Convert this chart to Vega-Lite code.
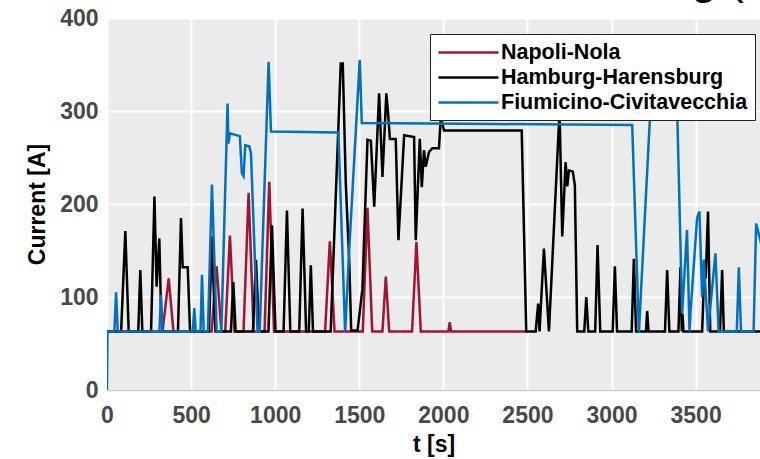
{
  "$schema": "https://vega.github.io/schema/vega-lite/v6.json",
  "autosize": {"type": "none"},
  "padding": {"left": 107, "top": 18, "right": 0, "bottom": 69},
  "width": 653,
  "height": 372,
  "background": "#ffffff",
  "title": {"text": "g (", "anchor": "end", "fontSize": 45, "font": "Liberation Sans", "fontWeight": "normal", "color": "#000000", "offset": 4, "dx": -16},
  "config": {
    "view": {"fill": "#ebebeb", "stroke": null},
    "axis": {"gridColor": "#ffffff", "gridWidth": 2, "ticks": false, "labelFont": "Liberation Sans", "labelFontWeight": "bold", "labelFontSize": 23, "labelColor": "#484848", "titleFont": "Liberation Sans", "titleFontWeight": "bold", "titleFontSize": 23, "titleColor": "#000000"}
  },
  "data": {"values": [
    {"series": "Napoli-Nola", "t": 0, "current": 63},
    {"series": "Napoli-Nola", "t": 330, "current": 63},
    {"series": "Napoli-Nola", "t": 367, "current": 120},
    {"series": "Napoli-Nola", "t": 395, "current": 63},
    {"series": "Napoli-Nola", "t": 622, "current": 63},
    {"series": "Napoli-Nola", "t": 652, "current": 133},
    {"series": "Napoli-Nola", "t": 680, "current": 63},
    {"series": "Napoli-Nola", "t": 703, "current": 63},
    {"series": "Napoli-Nola", "t": 731, "current": 166},
    {"series": "Napoli-Nola", "t": 758, "current": 63},
    {"series": "Napoli-Nola", "t": 812, "current": 63},
    {"series": "Napoli-Nola", "t": 842, "current": 212},
    {"series": "Napoli-Nola", "t": 872, "current": 63},
    {"series": "Napoli-Nola", "t": 937, "current": 63},
    {"series": "Napoli-Nola", "t": 965, "current": 224},
    {"series": "Napoli-Nola", "t": 993, "current": 63},
    {"series": "Napoli-Nola", "t": 1297, "current": 63},
    {"series": "Napoli-Nola", "t": 1325, "current": 160},
    {"series": "Napoli-Nola", "t": 1353, "current": 63},
    {"series": "Napoli-Nola", "t": 1521, "current": 63},
    {"series": "Napoli-Nola", "t": 1549, "current": 196},
    {"series": "Napoli-Nola", "t": 1577, "current": 63},
    {"series": "Napoli-Nola", "t": 1638, "current": 63},
    {"series": "Napoli-Nola", "t": 1658, "current": 122},
    {"series": "Napoli-Nola", "t": 1678, "current": 63},
    {"series": "Napoli-Nola", "t": 1814, "current": 63},
    {"series": "Napoli-Nola", "t": 1840, "current": 159},
    {"series": "Napoli-Nola", "t": 1866, "current": 63},
    {"series": "Napoli-Nola", "t": 2030, "current": 63},
    {"series": "Napoli-Nola", "t": 2038, "current": 73},
    {"series": "Napoli-Nola", "t": 2046, "current": 63},
    {"series": "Napoli-Nola", "t": 2490, "current": 63},

    {"series": "Hamburg-Harensburg", "t": 0, "current": 63},
    {"series": "Hamburg-Harensburg", "t": 84, "current": 63},
    {"series": "Hamburg-Harensburg", "t": 109, "current": 171},
    {"series": "Hamburg-Harensburg", "t": 129, "current": 63},
    {"series": "Hamburg-Harensburg", "t": 186, "current": 63},
    {"series": "Hamburg-Harensburg", "t": 198, "current": 129},
    {"series": "Hamburg-Harensburg", "t": 210, "current": 63},
    {"series": "Hamburg-Harensburg", "t": 262, "current": 63},
    {"series": "Hamburg-Harensburg", "t": 282, "current": 208},
    {"series": "Hamburg-Harensburg", "t": 295, "current": 111},
    {"series": "Hamburg-Harensburg", "t": 311, "current": 163},
    {"series": "Hamburg-Harensburg", "t": 322, "current": 80},
    {"series": "Hamburg-Harensburg", "t": 332, "current": 63},
    {"series": "Hamburg-Harensburg", "t": 422, "current": 63},
    {"series": "Hamburg-Harensburg", "t": 440, "current": 185},
    {"series": "Hamburg-Harensburg", "t": 450, "current": 132},
    {"series": "Hamburg-Harensburg", "t": 480, "current": 132},
    {"series": "Hamburg-Harensburg", "t": 494, "current": 63},
    {"series": "Hamburg-Harensburg", "t": 606, "current": 63},
    {"series": "Hamburg-Harensburg", "t": 624, "current": 165},
    {"series": "Hamburg-Harensburg", "t": 634, "current": 111},
    {"series": "Hamburg-Harensburg", "t": 645, "current": 63},
    {"series": "Hamburg-Harensburg", "t": 737, "current": 63},
    {"series": "Hamburg-Harensburg", "t": 751, "current": 116},
    {"series": "Hamburg-Harensburg", "t": 765, "current": 63},
    {"series": "Hamburg-Harensburg", "t": 868, "current": 63},
    {"series": "Hamburg-Harensburg", "t": 886, "current": 140},
    {"series": "Hamburg-Harensburg", "t": 904, "current": 63},
    {"series": "Hamburg-Harensburg", "t": 960, "current": 63},
    {"series": "Hamburg-Harensburg", "t": 981, "current": 177},
    {"series": "Hamburg-Harensburg", "t": 1002, "current": 63},
    {"series": "Hamburg-Harensburg", "t": 1050, "current": 63},
    {"series": "Hamburg-Harensburg", "t": 1070, "current": 193},
    {"series": "Hamburg-Harensburg", "t": 1090, "current": 63},
    {"series": "Hamburg-Harensburg", "t": 1143, "current": 63},
    {"series": "Hamburg-Harensburg", "t": 1163, "current": 195},
    {"series": "Hamburg-Harensburg", "t": 1184, "current": 63},
    {"series": "Hamburg-Harensburg", "t": 1200, "current": 63},
    {"series": "Hamburg-Harensburg", "t": 1212, "current": 134},
    {"series": "Hamburg-Harensburg", "t": 1225, "current": 63},
    {"series": "Hamburg-Harensburg", "t": 1330, "current": 63},
    {"series": "Hamburg-Harensburg", "t": 1390, "current": 351},
    {"series": "Hamburg-Harensburg", "t": 1402, "current": 351},
    {"series": "Hamburg-Harensburg", "t": 1420, "current": 222},
    {"series": "Hamburg-Harensburg", "t": 1440, "current": 140},
    {"series": "Hamburg-Harensburg", "t": 1452, "current": 64},
    {"series": "Hamburg-Harensburg", "t": 1490, "current": 64},
    {"series": "Hamburg-Harensburg", "t": 1519, "current": 109},
    {"series": "Hamburg-Harensburg", "t": 1549, "current": 269},
    {"series": "Hamburg-Harensburg", "t": 1569, "current": 268},
    {"series": "Hamburg-Harensburg", "t": 1589, "current": 197},
    {"series": "Hamburg-Harensburg", "t": 1618, "current": 319},
    {"series": "Hamburg-Harensburg", "t": 1638, "current": 229},
    {"series": "Hamburg-Harensburg", "t": 1661, "current": 319},
    {"series": "Hamburg-Harensburg", "t": 1670, "current": 301},
    {"series": "Hamburg-Harensburg", "t": 1682, "current": 270},
    {"series": "Hamburg-Harensburg", "t": 1717, "current": 270},
    {"series": "Hamburg-Harensburg", "t": 1733, "current": 161},
    {"series": "Hamburg-Harensburg", "t": 1767, "current": 274},
    {"series": "Hamburg-Harensburg", "t": 1826, "current": 272},
    {"series": "Hamburg-Harensburg", "t": 1836, "current": 161},
    {"series": "Hamburg-Harensburg", "t": 1860, "current": 270},
    {"series": "Hamburg-Harensburg", "t": 1872, "current": 218},
    {"series": "Hamburg-Harensburg", "t": 1885, "current": 258},
    {"series": "Hamburg-Harensburg", "t": 1895, "current": 240},
    {"series": "Hamburg-Harensburg", "t": 1915, "current": 256},
    {"series": "Hamburg-Harensburg", "t": 1935, "current": 260},
    {"series": "Hamburg-Harensburg", "t": 1974, "current": 260},
    {"series": "Hamburg-Harensburg", "t": 1985, "current": 294},
    {"series": "Hamburg-Harensburg", "t": 2004, "current": 279},
    {"series": "Hamburg-Harensburg", "t": 2466, "current": 279},
    {"series": "Hamburg-Harensburg", "t": 2493, "current": 63},
    {"series": "Hamburg-Harensburg", "t": 2549, "current": 63},
    {"series": "Hamburg-Harensburg", "t": 2564, "current": 93},
    {"series": "Hamburg-Harensburg", "t": 2572, "current": 63},
    {"series": "Hamburg-Harensburg", "t": 2598, "current": 152},
    {"series": "Hamburg-Harensburg", "t": 2628, "current": 63},
    {"series": "Hamburg-Harensburg", "t": 2691, "current": 300},
    {"series": "Hamburg-Harensburg", "t": 2707, "current": 165},
    {"series": "Hamburg-Harensburg", "t": 2727, "current": 245},
    {"series": "Hamburg-Harensburg", "t": 2737, "current": 219},
    {"series": "Hamburg-Harensburg", "t": 2747, "current": 236},
    {"series": "Hamburg-Harensburg", "t": 2770, "current": 235},
    {"series": "Hamburg-Harensburg", "t": 2782, "current": 220},
    {"series": "Hamburg-Harensburg", "t": 2796, "current": 63},
    {"series": "Hamburg-Harensburg", "t": 2838, "current": 63},
    {"series": "Hamburg-Harensburg", "t": 2850, "current": 100},
    {"series": "Hamburg-Harensburg", "t": 2862, "current": 63},
    {"series": "Hamburg-Harensburg", "t": 2903, "current": 63},
    {"series": "Hamburg-Harensburg", "t": 2917, "current": 156},
    {"series": "Hamburg-Harensburg", "t": 2933, "current": 63},
    {"series": "Hamburg-Harensburg", "t": 3007, "current": 63},
    {"series": "Hamburg-Harensburg", "t": 3020, "current": 133},
    {"series": "Hamburg-Harensburg", "t": 3033, "current": 63},
    {"series": "Hamburg-Harensburg", "t": 3120, "current": 63},
    {"series": "Hamburg-Harensburg", "t": 3133, "current": 141},
    {"series": "Hamburg-Harensburg", "t": 3146, "current": 63},
    {"series": "Hamburg-Harensburg", "t": 3205, "current": 63},
    {"series": "Hamburg-Harensburg", "t": 3212, "current": 85},
    {"series": "Hamburg-Harensburg", "t": 3220, "current": 63},
    {"series": "Hamburg-Harensburg", "t": 3318, "current": 63},
    {"series": "Hamburg-Harensburg", "t": 3331, "current": 129},
    {"series": "Hamburg-Harensburg", "t": 3344, "current": 63},
    {"series": "Hamburg-Harensburg", "t": 3398, "current": 63},
    {"series": "Hamburg-Harensburg", "t": 3410, "current": 132},
    {"series": "Hamburg-Harensburg", "t": 3418, "current": 63},
    {"series": "Hamburg-Harensburg", "t": 3422, "current": 82},
    {"series": "Hamburg-Harensburg", "t": 3428, "current": 63},
    {"series": "Hamburg-Harensburg", "t": 3539, "current": 63},
    {"series": "Hamburg-Harensburg", "t": 3554, "current": 140},
    {"series": "Hamburg-Harensburg", "t": 3560, "current": 120},
    {"series": "Hamburg-Harensburg", "t": 3574, "current": 192},
    {"series": "Hamburg-Harensburg", "t": 3587, "current": 63},
    {"series": "Hamburg-Harensburg", "t": 3645, "current": 63},
    {"series": "Hamburg-Harensburg", "t": 3658, "current": 129},
    {"series": "Hamburg-Harensburg", "t": 3668, "current": 63},
    {"series": "Hamburg-Harensburg", "t": 3890, "current": 63},

    {"series": "Fiumicino-Civitavecchia", "t": 0, "current": 0},
    {"series": "Fiumicino-Civitavecchia", "t": 3, "current": 63},
    {"series": "Fiumicino-Civitavecchia", "t": 44, "current": 63},
    {"series": "Fiumicino-Civitavecchia", "t": 54, "current": 105},
    {"series": "Fiumicino-Civitavecchia", "t": 64, "current": 63},
    {"series": "Fiumicino-Civitavecchia", "t": 312, "current": 63},
    {"series": "Fiumicino-Civitavecchia", "t": 321, "current": 102},
    {"series": "Fiumicino-Civitavecchia", "t": 330, "current": 63},
    {"series": "Fiumicino-Civitavecchia", "t": 510, "current": 63},
    {"series": "Fiumicino-Civitavecchia", "t": 519, "current": 88},
    {"series": "Fiumicino-Civitavecchia", "t": 528, "current": 63},
    {"series": "Fiumicino-Civitavecchia", "t": 556, "current": 63},
    {"series": "Fiumicino-Civitavecchia", "t": 565, "current": 124},
    {"series": "Fiumicino-Civitavecchia", "t": 575, "current": 63},
    {"series": "Fiumicino-Civitavecchia", "t": 600, "current": 63},
    {"series": "Fiumicino-Civitavecchia", "t": 624, "current": 221},
    {"series": "Fiumicino-Civitavecchia", "t": 652, "current": 63},
    {"series": "Fiumicino-Civitavecchia", "t": 680, "current": 63},
    {"series": "Fiumicino-Civitavecchia", "t": 717, "current": 308},
    {"series": "Fiumicino-Civitavecchia", "t": 722, "current": 265},
    {"series": "Fiumicino-Civitavecchia", "t": 731, "current": 276},
    {"series": "Fiumicino-Civitavecchia", "t": 790, "current": 273},
    {"series": "Fiumicino-Civitavecchia", "t": 802, "current": 233},
    {"series": "Fiumicino-Civitavecchia", "t": 812, "current": 230},
    {"series": "Fiumicino-Civitavecchia", "t": 822, "current": 263},
    {"series": "Fiumicino-Civitavecchia", "t": 846, "current": 262},
    {"series": "Fiumicino-Civitavecchia", "t": 856, "current": 255},
    {"series": "Fiumicino-Civitavecchia", "t": 895, "current": 63},
    {"series": "Fiumicino-Civitavecchia", "t": 908, "current": 63},
    {"series": "Fiumicino-Civitavecchia", "t": 961, "current": 353},
    {"series": "Fiumicino-Civitavecchia", "t": 975, "current": 278},
    {"series": "Fiumicino-Civitavecchia", "t": 1376, "current": 277},
    {"series": "Fiumicino-Civitavecchia", "t": 1416, "current": 62},
    {"series": "Fiumicino-Civitavecchia", "t": 1440, "current": 150},
    {"series": "Fiumicino-Civitavecchia", "t": 1503, "current": 355},
    {"series": "Fiumicino-Civitavecchia", "t": 1515, "current": 287},
    {"series": "Fiumicino-Civitavecchia", "t": 2300, "current": 286},
    {"series": "Fiumicino-Civitavecchia", "t": 3123, "current": 285},
    {"series": "Fiumicino-Civitavecchia", "t": 3163, "current": 62},
    {"series": "Fiumicino-Civitavecchia", "t": 3232, "current": 305},
    {"series": "Fiumicino-Civitavecchia", "t": 3390, "current": 305},
    {"series": "Fiumicino-Civitavecchia", "t": 3420, "current": 82},
    {"series": "Fiumicino-Civitavecchia", "t": 3449, "current": 172},
    {"series": "Fiumicino-Civitavecchia", "t": 3464, "current": 63},
    {"series": "Fiumicino-Civitavecchia", "t": 3470, "current": 84},
    {"series": "Fiumicino-Civitavecchia", "t": 3509, "current": 185},
    {"series": "Fiumicino-Civitavecchia", "t": 3523, "current": 192},
    {"series": "Fiumicino-Civitavecchia", "t": 3539, "current": 100},
    {"series": "Fiumicino-Civitavecchia", "t": 3549, "current": 140},
    {"series": "Fiumicino-Civitavecchia", "t": 3574, "current": 63},
    {"series": "Fiumicino-Civitavecchia", "t": 3618, "current": 147},
    {"series": "Fiumicino-Civitavecchia", "t": 3637, "current": 63},
    {"series": "Fiumicino-Civitavecchia", "t": 3745, "current": 63},
    {"series": "Fiumicino-Civitavecchia", "t": 3757, "current": 132},
    {"series": "Fiumicino-Civitavecchia", "t": 3770, "current": 63},
    {"series": "Fiumicino-Civitavecchia", "t": 3845, "current": 63},
    {"series": "Fiumicino-Civitavecchia", "t": 3860, "current": 179},
    {"series": "Fiumicino-Civitavecchia", "t": 3900, "current": 150}
  ]},
  "mark": {"type": "line", "strokeWidth": 2.5, "clip": true},
  "encoding": {
    "x": {"field": "t", "type": "quantitative", "title": "t [s]",
      "scale": {"domain": [0, 3883], "nice": false, "zero": false},
      "axis": {"values": [0, 500, 1000, 1500, 2000, 2500, 3000, 3500], "format": "d", "labelPadding": 14, "titlePadding": 6, "domainColor": "#cccccc", "domainWidth": 1.5, "labelFlush": false}},
    "y": {"field": "current", "type": "quantitative", "title": "Current [A]",
      "scale": {"domain": [0, 400], "nice": false},
      "axis": {"values": [0, 100, 200, 300, 400], "format": "d", "labelPadding": 9, "titlePadding": 10, "domain": false}},
    "color": {"field": "series", "type": "nominal",
      "scale": {"domain": ["Napoli-Nola", "Hamburg-Harensburg", "Fiumicino-Civitavecchia"], "range": ["#a2142f", "#000000", "#0072bd"]},
      "legend": {"orient": "none", "legendX": 323, "legendY": 16, "title": null, "symbolType": "M-3,0H3", "symbolSize": 400, "symbolOffset": 20, "symbolStrokeWidth": 2.5, "labelFont": "Liberation Sans", "labelFontWeight": "bold", "labelFontSize": 21.5, "labelLimit": 500, "labelColor": "#000000", "fillColor": "#ffffff", "strokeColor": "#222222", "padding": 7, "rowPadding": 3, "labelOffset": 21, "cornerRadius": 0}},
    "order": {"field": "t", "type": "quantitative"}
  }
}
